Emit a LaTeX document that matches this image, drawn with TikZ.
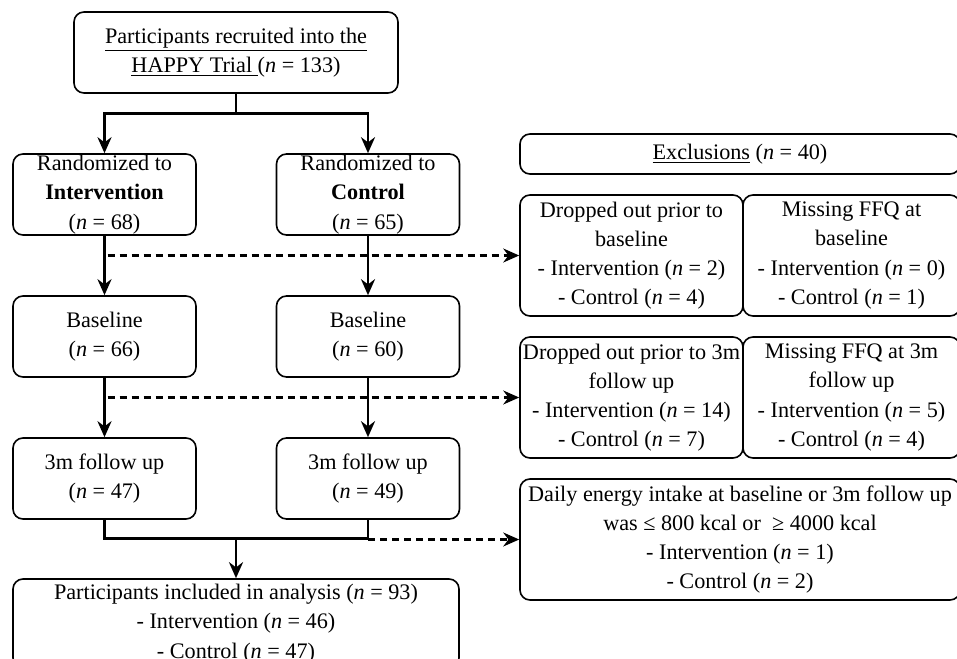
\documentclass[tikz,border=0pt]{standalone}
\usepackage{fontspec}
\setmainfont{Liberation Serif}
\usetikzlibrary{arrows.meta,calc,positioning}
\newcommand{\ncount}[1]{(\textit{n} = #1)}

\begin{document}
\begin{tikzpicture}[x=0.5pt,y=-0.5pt,>={Stealth[length=8pt,width=7pt]},
    box/.style={draw,rounded corners=5pt,line width=0.8pt,align=center,inner sep=0pt,
      font=\fontsize{11.1}{14.6}\selectfont},
    armbox/.style={box,minimum width=91.5pt,minimum height=40.5pt},
    exbox/.style={box,minimum height=60.5pt},
    flow/.style={->,line width=1.4pt},
    drop/.style={->,line width=1.1pt,dash pattern=on 3.5pt off 2.5pt}]
  \useasboundingbox (0,0) rectangle (957,658);
  \node[box,minimum width=162pt,minimum height=40.5pt] (top) at (236,52.5)
    {\underline{Participants recruited into the}\\\underline{HAPPY Trial }\ncount{133}};
  \node[armbox] (rand1) at (104.5,194.5) {Randomized to\\\textbf{Intervention}\\\ncount{68}};
  \node[armbox] (rand2) at (368,194.5) {Randomized to\\\textbf{Control}\\\ncount{65}};
  \node[armbox] (base1) at (104.5,336.5) {Baseline\\\ncount{66}};
  \node[armbox] (base2) at (368,336.5) {Baseline\\\ncount{60}};
  \node[armbox] (fu1) at (104.5,478.5) {3m follow up\\\ncount{47}};
  \node[armbox] (fu2) at (368,478.5) {3m follow up\\\ncount{49}};
  \node[box,minimum width=223pt,minimum height=44.5pt] (anal) at (236,623.5)
    {Participants included in analysis \ncount{93}\\- Intervention \ncount{46}\\- Control \ncount{47}};
  \node[box,minimum width=220pt,minimum height=20pt] (excl) at (740,154) {\underline{Exclusions} \ncount{40}};
  \node[exbox,minimum width=111.5pt] (drop1) at (631.5,255.5)
    {Dropped out prior to\\baseline\\- Intervention \ncount{2}\\- Control \ncount{4}};
  \node[exbox,minimum width=108.5pt] (miss1) at (851.5,255.5)
    {Missing FFQ at\\baseline\\- Intervention \ncount{0}\\- Control \ncount{1}};
  \node[exbox,minimum width=111.5pt] (drop2) at (631.5,397.5)
    {Dropped out prior to 3m\\follow up\\- Intervention \ncount{14}\\- Control \ncount{7}};
  \node[exbox,minimum width=108.5pt] (miss2) at (851.5,397.5)
    {Missing FFQ at 3m\\follow up\\- Intervention \ncount{5}\\- Control \ncount{4}};
  \node[exbox,minimum width=220pt] (energy) at (740,539.5)
    {Daily energy intake at baseline or 3m follow up\\was ≤ 800 kcal or \ ≥ 4000 kcal\\- Intervention \ncount{1}\\- Control \ncount{2}};
  % randomisation split
  \coordinate (split) at ($(top.south)+(0,20)$);
  \draw[line width=1.4pt] (top.south) -- (split);
  \draw[flow] (split) -| (rand1.north);
  \draw[flow] (split) -| (rand2.north);
  \draw[flow] (rand1) -- (base1);
  \draw[flow] (rand2) -- (base2);
  \draw[flow] (base1) -- (fu1);
  \draw[flow] (base2) -- (fu2);
  % merge into analysis
  \coordinate (join) at ($(anal.north)+(0,-40)$);
  \draw[line width=1.4pt] (fu1.south) |- (join) -| (fu2.south);
  \draw[flow] (join) -- (anal.north);
  % exclusions
  \draw[drop] ($(rand1.south |- drop1.west)+(3,0)$) -- (drop1.west);
  \draw[drop] ($(base1.south |- drop2.west)+(3,0)$) -- (drop2.west);
  \draw[drop] (fu2.south |- energy.west) -- (energy.west);
\end{tikzpicture}
\end{document}
